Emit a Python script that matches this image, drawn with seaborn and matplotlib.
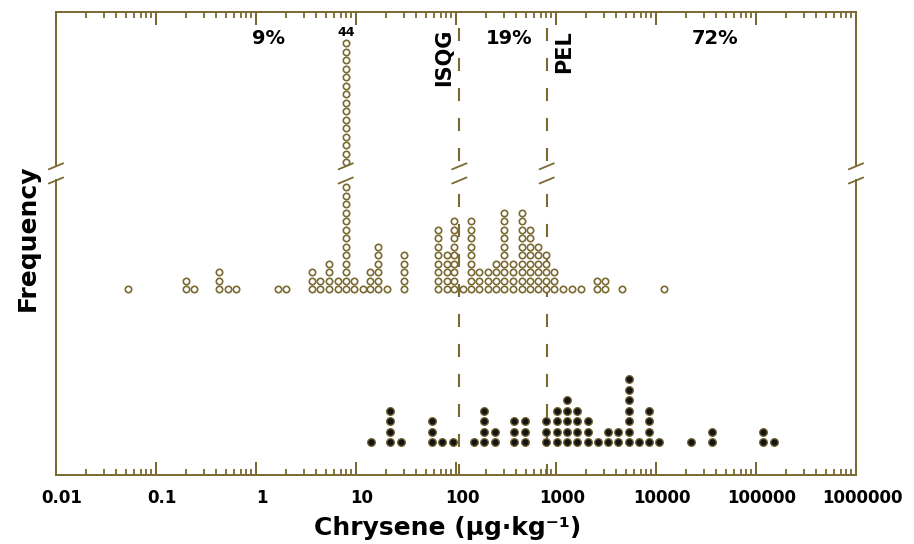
import numpy as np
import pandas as pd
import matplotlib
matplotlib.use("Agg")
import matplotlib.pyplot as plt
import matplotlib.ticker as mticker
import matplotlib.transforms as mtransforms
from matplotlib.lines import Line2D
import seaborn as sns

# Chrysene concentration (µg/kg): dot-plot bin centres and number of samples in each bin
open_conc = [0.052, 0.20, 0.24, 0.43, 0.52, 0.63, 1.65, 2.0, 3.6, 4.4, 5.4, 6.6,
             7.9, 9.6, 11.7, 13.8, 16.7, 20.3, 30, 66, 81, 96, 117, 140, 171,
             207, 251, 304, 374, 454, 550, 656, 794, 962, 1180, 1450, 1770,
             2550, 3090, 4540, 12000]
open_count = [1, 2, 1, 3, 1, 1, 1, 1, 3, 2, 4, 2,
              44, 2, 1, 3, 6, 1, 5, 8, 5, 9, 1, 9, 3,
              3, 4, 10, 4, 10, 8, 6, 5, 3, 1, 1, 1,
              2, 2, 1, 1]

filled_conc = [14, 22, 28, 58, 72, 93, 151, 192, 245, 383, 490, 794, 1020,
               1280, 1630, 2080, 2610, 3290, 4200, 5410, 6810, 8510, 10800,
               22400, 36100, 118000, 151000]
filled_count = [1, 4, 1, 3, 1, 1, 1, 4, 2, 3, 3, 3, 4,
                5, 4, 3, 1, 2, 2, 7, 1, 4, 1,
                1, 2, 2, 1]

# Sediment quality guidelines
guide_names = ["ISQG", "PEL"]
guide_values = [108, 807]

# Share of samples in each guideline class and where the labels sit
pct_labels = ["9%", "19%", "72%"]
pct_pos = [1.32, 336, 38900]

tick_values = [0.01, 0.1, 1, 10, 100, 1000, 10000, 100000, 1000000]
tick_labels = ["0.01", "0.1", "1", "10", "100", "1000", "10000", "100000", "1000000"]

# ---- style -------------------------------------------------------------
sns.set_style("white")
plt.rcParams["font.family"] = ["DejaVu Sans"]
plt.rcParams["lines.scale_dashes"] = False
plt.rcParams["text.color"] = "black"
plt.rcParams["axes.labelcolor"] = "black"
plt.rcParams["xtick.labelcolor"] = "black"

OLIVE = "#7a6a32"
W, H = 914, 544
fig = plt.figure(figsize=(W / 100, H / 100), dpi=100)


def fx(px):
    return px / W


def fy(py):
    return 1 - py / H


# broken y axis: upper strip and main panel (units of the level axis are pixels)
ax_top = fig.add_axes([fx(56), fy(166), fx(800), 154 / H])
ax_bot = fig.add_axes([fx(56), fy(475), fx(800), 295 / H])

OPEN_BASE, OPEN_STEP = 186.0, 8.5
FILL_BASE, FILL_STEP = 32.7, 10.5


def stack(conc, count, base, step):
    xs, ys = [], []
    for c, n in zip(conc, count):
        for k in range(n):
            xs.append(c)
            ys.append(base + k * step)
    return pd.DataFrame({"conc": xs, "level": ys})


open_df = stack(open_conc, open_count, OPEN_BASE, OPEN_STEP)
filled_df = stack(filled_conc, filled_count, FILL_BASE, FILL_STEP)

peak_n = max(open_count)
peak_x = open_conc[open_count.index(peak_n)]
peak_level = OPEN_BASE + OPEN_STEP * (peak_n - 1)

bot_lim = (0, 295)
top_lim = (peak_level - 123, peak_level + 31)
ax_bot.set_ylim(*bot_lim)
ax_top.set_ylim(*top_lim)

# dots whose centre falls inside the break are not shown
for ax, lim in ((ax_top, top_lim), (ax_bot, bot_lim)):
    part = open_df[(open_df["level"] >= lim[0]) & (open_df["level"] <= lim[1] - 4)]
    sns.scatterplot(data=part, x="conc", y="level", ax=ax, marker="o",
                    s=21, color="white", edgecolor=OLIVE, linewidth=1.2,
                    legend=False, zorder=3)
sns.scatterplot(data=filled_df, x="conc", y="level", ax=ax_bot, marker="o",
                s=30, color="#141414", edgecolor="#6f6132", linewidth=0.95,
                legend=False, zorder=3)
ax_bot.set_ylim(*bot_lim)
ax_top.set_ylim(*top_lim)

major_loc = mticker.FixedLocator(tick_values)
minor_loc = mticker.LogLocator(base=10, subs=np.arange(2, 10), numticks=100)
for ax in (ax_top, ax_bot):
    ax.set_xscale("log")
    ax.set_xlim(tick_values[0], tick_values[-1])
    ax.xaxis.set_major_locator(major_loc)
    ax.xaxis.set_minor_locator(minor_loc)
    ax.set_yticks([])
    ax.set_xlabel("")
    ax.set_ylabel("")
    for s in ax.spines.values():
        s.set_color(OLIVE)
        s.set_linewidth(1.4)
    ax.tick_params(axis="x", which="major", direction="in", length=9.4,
                   width=1.44, color=OLIVE)
    ax.tick_params(axis="x", which="minor", direction="in", length=4.3,
                   width=1.3, color=OLIVE)

ax_top.spines["bottom"].set_visible(False)
ax_bot.spines["top"].set_visible(False)
ax_top.tick_params(axis="x", which="both", top=True, bottom=False,
                   labelbottom=False, labeltop=False)
ax_bot.tick_params(axis="x", which="both", top=False, bottom=True,
                   labelbottom=True)
ax_bot.xaxis.set_major_formatter(mticker.FixedFormatter(tick_labels))
ax_bot.tick_params(axis="x", which="major", pad=10, labelsize=12,
                   labelcolor="black")
shift = mtransforms.ScaledTranslation(6 / 100, 0, fig.dpi_scale_trans)
for lab in ax_bot.get_xticklabels():
    lab.set_fontweight("bold")
    lab.set_transform(lab.get_transform() + shift)

# guideline lines (dashed), drawn from the top down in each panel
dash = (0, (9.4, 12.2))
dash_gap_first = (9.4, (9.4, 12.2))
for g in guide_values:
    ax_top.plot([g, g], [(166 - 28) / 154, 0], transform=ax_top.get_xaxis_transform(),
                color=OLIVE, lw=1.5, linestyle=dash, zorder=2)
    ax_bot.plot([g, g], [1 + 3 / 295, 0], transform=ax_bot.get_xaxis_transform(),
                color=OLIVE, lw=1.5, linestyle=dash_gap_first, zorder=2, clip_on=False)

# labels on the plot
fig.canvas.draw()


def data_px(x):
    return ax_bot.transData.transform((x, 1))[0]


for name, g, dx, yc in zip(guide_names, guide_values, [-15, 17.5], [57.5, 51.5]):
    fig.text(fx(data_px(g) + dx), fy(yc), name, rotation=90, ha="center",
             va="center", fontsize=15, fontweight="bold", color="black")

for lab, p in zip(pct_labels, pct_pos):
    fig.text(fx(data_px(p)), fy(38), lab, ha="center", va="center",
             fontsize=14, fontweight="bold", color="black")

ax_top.text(peak_x, peak_level + 11, str(peak_n), ha="center", va="center",
            fontsize=9, fontweight="bold", color="black")

# axis-break marks
for xpx in [56, data_px(peak_x), data_px(guide_values[0]), data_px(guide_values[1]), 856]:
    for yc in (166.3, 180.5):
        fig.add_artist(Line2D([fx(xpx - 7.2), fx(xpx + 7.2)],
                              [fy(yc + 3), fy(yc - 3)],
                              transform=fig.transFigure, color=OLIVE, lw=1.3))

fig.text(fx(448), fy(535), "Chrysene (µg·kg⁻¹)", ha="center", va="baseline",
         fontsize=18, fontweight="bold", color="black")
fig.text(fx(28), fy(237.5), "Frequency", rotation=90, ha="center", va="center",
         fontsize=18, fontweight="bold", color="black")

fig.savefig("out.png", dpi=100)
